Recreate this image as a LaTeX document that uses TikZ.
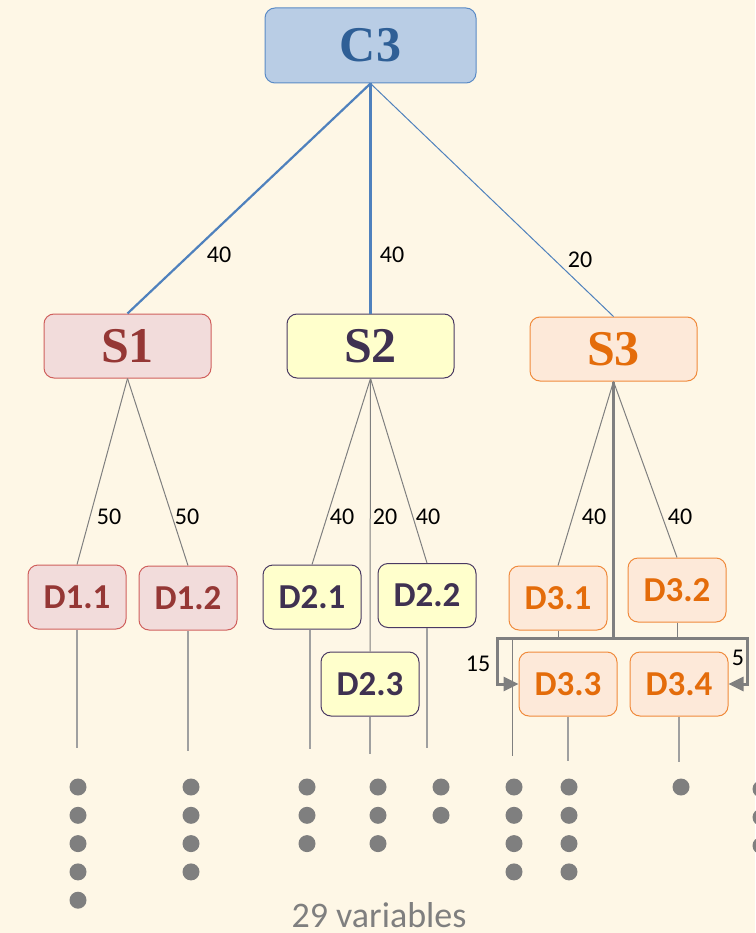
\documentclass[tikz,border=0pt]{standalone}
\usepackage{fontspec}
\setmainfont{Liberation Serif}
\newfontfamily\calib{Carlito}
\usetikzlibrary{arrows.meta}
\definecolor{bg}{HTML}{FEF7E6}
\definecolor{cfill}{HTML}{B9CDE5}
\definecolor{cdraw}{HTML}{5B8BC6}
\definecolor{ctext}{HTML}{2F5F96}
\definecolor{rfill}{HTML}{F2DCDB}
\definecolor{rdraw}{HTML}{D0605D}
\definecolor{rtext}{HTML}{953735}
\definecolor{yfill}{HTML}{FFFFCC}
\definecolor{ydraw}{HTML}{4A3A63}
\definecolor{ytext}{HTML}{3F3151}
\definecolor{ofill}{HTML}{FDE9D9}
\definecolor{odraw}{HTML}{F08A3C}
\definecolor{otext}{HTML}{E46C0A}
\definecolor{edgeblue}{HTML}{4F81BD}
\definecolor{lgray}{HTML}{7F7F7F}
\definecolor{vgray}{HTML}{A0A0A0}
\definecolor{dotgray}{HTML}{7F7F7F}
\begin{document}
\begin{tikzpicture}[x=1pt,y=-1pt,
  box/.style={draw, rounded corners=10pt, line width=1pt, inner sep=0pt},
  cbox/.style={box, minimum width=211pt, minimum height=75pt, fill=cfill, draw=cdraw, text=ctext, font=\bfseries\fontsize{50}{50}\selectfont},
  sbox/.style={box, minimum width=167pt, minimum height=64pt, font=\bfseries\fontsize{50}{50}\selectfont},
  dbox/.style={box, minimum width=98pt, minimum height=64pt, font=\calib\bfseries\fontsize{35}{35}\selectfont},
  red/.style={fill=rfill, draw=rdraw, text=rtext},
  yel/.style={fill=yfill, draw=ydraw, text=ytext},
  ora/.style={fill=ofill, draw=odraw, text=otext},
  lbl/.style={font=\calib\fontsize{24}{24}\selectfont, text=black, inner sep=0pt},
  topedge/.style={draw=edgeblue, line width=2.2pt},
  topedgethin/.style={draw=edgeblue, line width=1pt},
  midedge/.style={draw=lgray, line width=1pt},
  drop/.style={draw=vgray, line width=1.5pt},
  thickg/.style={draw=lgray, line width=3pt},
  dot/.style={circle, fill=dotgray, minimum size=17pt, inner sep=0pt}
]
\fill[bg] (0,0) rectangle (755,933);
\useasboundingbox (0,0) rectangle (755,933);

% nodes
\node[cbox] (C3) at (370.5,45.5) {C3};
\node[sbox,red] (S1) at (127.5,346) {S1};
\node[sbox,yel] (S2) at (370.5,346) {S2};
\node[sbox,ora] (S3) at (613.5,349) {S3};

\node[dbox,red] (D11) at (77,597) {D1.1};
\node[dbox,red] (D12) at (188,598) {D1.2};
\node[dbox,yel] (D21) at (312,597) {D2.1};
\node[dbox,yel] (D22) at (427,595.5) {D2.2};
\node[dbox,yel] (D23) at (370,684) {D2.3};
\node[dbox,ora] (D31) at (558,598) {D3.1};
\node[dbox,ora] (D32) at (677,590) {D3.2};
\node[dbox,ora] (D33) at (568,684) {D3.3};
\node[dbox,ora] (D34) at (679,684) {D3.4};

% top edges
\draw[topedge] (C3.south) -- (S1.north);
\draw[topedge] (C3.south) -- (S2.north);
\draw[topedgethin] (C3.south) -- (S3.north);
\node[lbl] (l1) at (219,255) {40};
\node[lbl] (l2) at (392,255) {40};
\node[lbl] (l3) at (580,260) {20};

% middle edges
\draw[midedge] (S1.south) -- (D11.north);
\draw[midedge] (S1.south) -- (D12.north);
\draw[midedge] (S2.south) -- (D21.north);
\draw[midedge] (S2.south) -- (D22.north);
\draw[midedge] (S2.south) -- (D23.north);
\draw[midedge] (S3.south) -- (D31.north);
\draw[midedge] (S3.south) -- (D32.north);
\node[lbl] (l4) at (109,517) {50};
\node[lbl] (l5) at (187,517) {50};
\node[lbl] (l6) at (342,517) {40};
\node[lbl] (l7) at (385,517) {20};
\node[lbl] (l8) at (428,517) {40};
\node[lbl] (l9) at (594,517) {40};
\node[lbl] (l10) at (680,517) {40};

% S3 hub lines
\coordinate (hub) at (613.5,638);
\coordinate (lc) at (497,638);
\coordinate (rc) at (747,638);
\coordinate (d31a) at (512,638);
\coordinate (d31e) at (512,756);
\coordinate (d32a) at (677,638);
\draw[midedge] (D31.south) |- (d31a) -- (d31e);
\draw[midedge] (D32.south) -- (d32a);
\draw[thickg] (S3.south) -- (hub);
\draw[thickg, -{Triangle[length=15pt,width=14pt]}] (hub) -- (lc) |- (D33.west);
\draw[thickg, -{Triangle[length=15pt,width=14pt]}] (hub) -- (rc) |- (D34.east);
\node[lbl] (l11) at (478,664) {15};
\node[lbl] (l12) at (738,658) {5};

% drops
\coordinate (e11) at (77,748);
\coordinate (e12) at (188,751);
\coordinate (e21) at (310,749);
\coordinate (e23) at (370,754);
\coordinate (e22) at (427,748);
\coordinate (e33) at (568,761);
\coordinate (e34) at (679,762);
\draw[drop] (D11.south) -- (e11);
\draw[drop] (D12.south) -- (e12);
\draw[drop] ([xshift=-2pt]D21.south) -- (e21);
\draw[drop] (D23.south) -- (e23);
\draw[drop] (D22.south) -- (e22);
\draw[drop] (D33.south) -- (e33);
\draw[drop] (D34.south) -- (e34);

% dots
\foreach \x/\n/\c in {78/5/a,191/4/b,307/3/c,378/3/d,441/2/e,514/4/f,569/4/g,681/1/h}{
  \foreach \i in {1,...,\n}{
    \node[dot] (dot-\c-\i) at (\x,{787+28.3*(\i-1)}) {};
  }
}
\foreach \i in {1,2,3}{
  \node[dot] (dot-i-\i) at (761,{789+28.3*(\i-1)}) {};
}

\node[font=\calib\fontsize{36}{36}\selectfont, text=lgray, anchor=base, inner sep=0pt] (title) at (379,927) {29 variables};
\end{tikzpicture}
\end{document}
